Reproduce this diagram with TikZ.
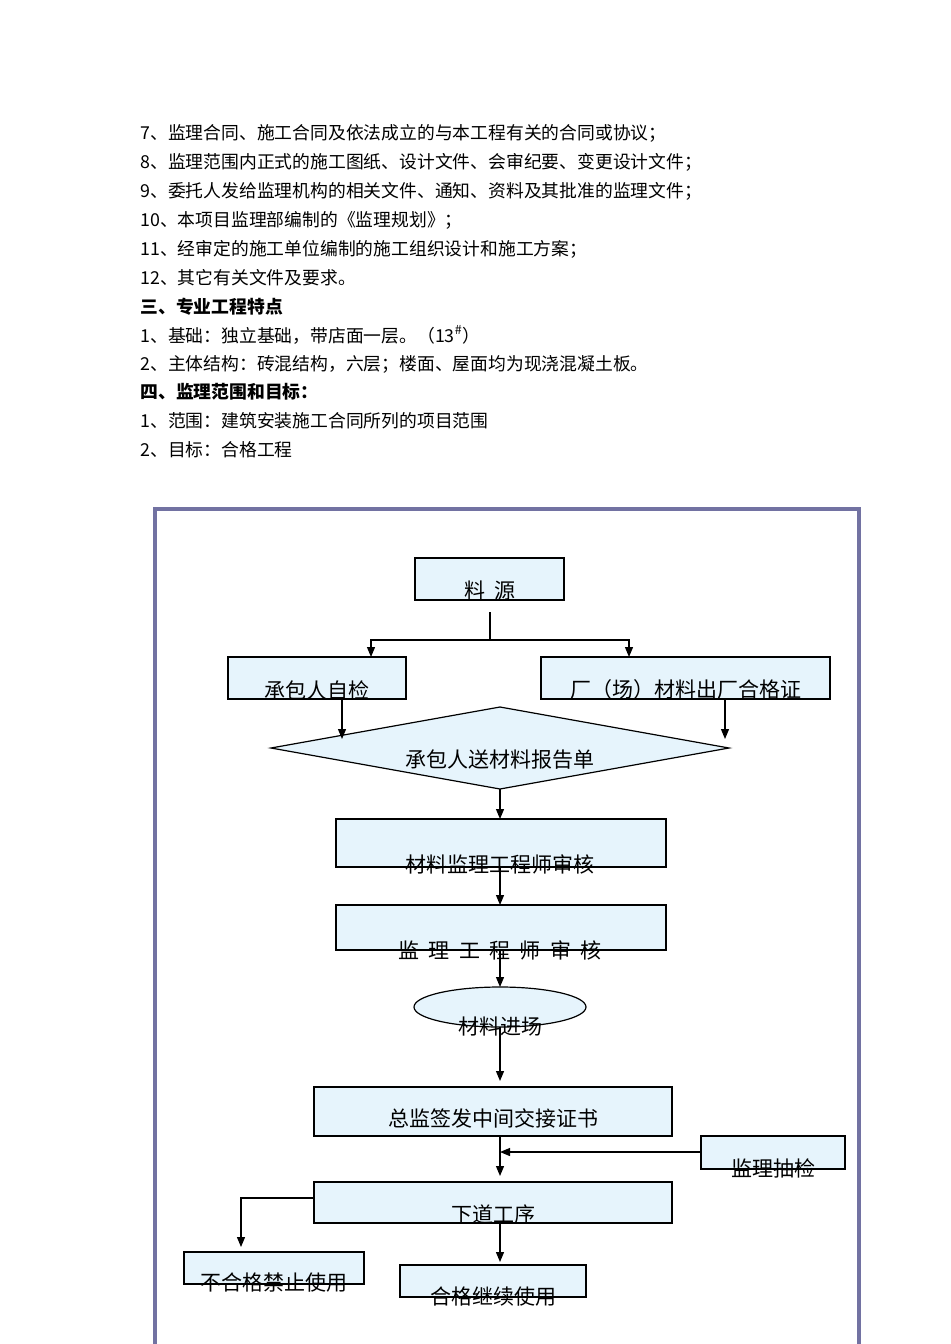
\documentclass[tikz,border=0pt]{standalone}
\usepackage{fontspec}
\setmainfont{Noto Sans CJK SC}
\usetikzlibrary{shapes.geometric,arrows.meta}
\definecolor{boxfill}{HTML}{E6F4FC}
\definecolor{frame}{HTML}{7272A2}
\begin{document}
\begin{tikzpicture}[x=0.5pt,y=-0.5pt,
  bx/.style={draw=black,fill=boxfill,line width=0.6pt},
  lbl/.style={font=\fontsize{10.5pt}{12pt}\selectfont,inner sep=0pt},
  txt/.style={font=\fontsize{8.9pt}{10pt}\selectfont,anchor=west,inner sep=0pt},
  ar/.style={-{Triangle[length=5pt,width=4pt]},line width=0.6pt}]
\useasboundingbox (0,0) rectangle (950,1344);
\fill[white] (0,0) rectangle (950,1344);
% text block
\node[txt] (t1) at (140,133) {7、监理合同、施工合同及依法成立的与本工程有关的合同或协议；};
\node[txt] (t2) at (140,162) {8、监理范围内正式的施工图纸、设计文件、会审纪要、变更设计文件；};
\node[txt] (t3) at (140,191) {9、委托人发给监理机构的相关文件、通知、资料及其批准的监理文件；};
\node[txt] (t4) at (140,220) {10、本项目监理部编制的《监理规划》；};
\node[txt] (t5) at (140,249) {11、经审定的施工单位编制的施工组织设计和施工方案；};
\node[txt] (t6) at (140,278) {12、其它有关文件及要求。};
\node[txt,font=\fontsize{8.9pt}{10pt}\selectfont\bfseries] (t7) at (140,307) {三、专业工程特点};
\node[txt] (t8) at (140,335) {1、基础：独立基础，带店面一层。（13\textsuperscript{\#}）};
\node[txt] (t9) at (140,364) {2、主体结构：砖混结构，六层；楼面、屋面均为现浇混凝土板。};
\node[txt,font=\fontsize{8.9pt}{10pt}\selectfont\bfseries] (t10) at (140,392) {四、监理范围和目标：};
\node[txt] (t11) at (140,421) {1、范围：建筑安装施工合同所列的项目范围};
\node[txt] (t12) at (140,450) {2、目标：合格工程};
% frame
\draw[frame,line width=2pt] (155,1350) -- (155,509) -- (859,509) -- (859,1350);
% boxes
\draw[bx] (415,558) rectangle (564,600);
\node[lbl] (l1) at (490,591) {料\ \ 源};
\draw[bx] (228,657) rectangle (406,699);
\node[lbl] (l2) at (317,690) {承包人自检};
\draw[bx] (541,657) rectangle (830,699);
\node[lbl] (l3) at (686,690) {厂（场）材料出厂合格证};
\draw[bx] (271,748) -- (500,707) -- (729,748) -- (500,789) -- cycle;
\node[lbl] (l4) at (500,760) {承包人送材料报告单};
\draw[bx] (336,819) rectangle (666,867);
\node[lbl] (l5) at (500,864) {材料监理工程师审核};
\draw[bx] (336,905) rectangle (666,950);
\node[lbl] (l6) at (500,950) {监\ \ 理\ \ 工\ \ 程\ \ 师\ \ 审\ \ 核};
\draw[bx] (500,1007) ellipse [x radius=86,y radius=20];
\node[lbl] (l7) at (500,1026) {材料进场};
\draw[bx] (314,1087) rectangle (672,1136);
\node[lbl] (l8) at (493,1118) {总监签发中间交接证书};
\draw[bx] (701,1136) rectangle (845,1169);
\node[lbl] (l9) at (773,1168) {监理抽检};
\draw[bx] (314,1182) rectangle (672,1223);
\node[lbl] (l10) at (493,1214) {下道工序};
\draw[bx] (184,1252) rectangle (364,1284);
\node[lbl] (l11) at (274,1283) {不合格禁止使用};
\draw[bx] (400,1265) rectangle (586,1297);
\node[lbl] (l12) at (493,1297) {合格继续使用};
% connectors
\draw[line width=0.6pt] (490,612) -- (490,640);
\draw[ar] (490,640) -| (371,657);
\draw[ar] (490,640) -| (629,657);
\draw[ar] (342,699) -- (342,739);
\draw[ar] (725,699) -- (725,739);
\draw[ar] (500,789) -- (500,819);
\draw[ar] (500,867) -- (500,905);
\draw[ar] (500,950) -- (500,987);
\draw[ar] (500,1027) -- (500,1081);
\draw[ar] (500,1136) -- (500,1176);
\draw[ar] (701,1152) -- (500,1152);
\draw[ar] (314,1198) -- (241,1198) -- (241,1247);
\draw[ar] (500,1223) -- (500,1262);
\end{tikzpicture}
\end{document}
